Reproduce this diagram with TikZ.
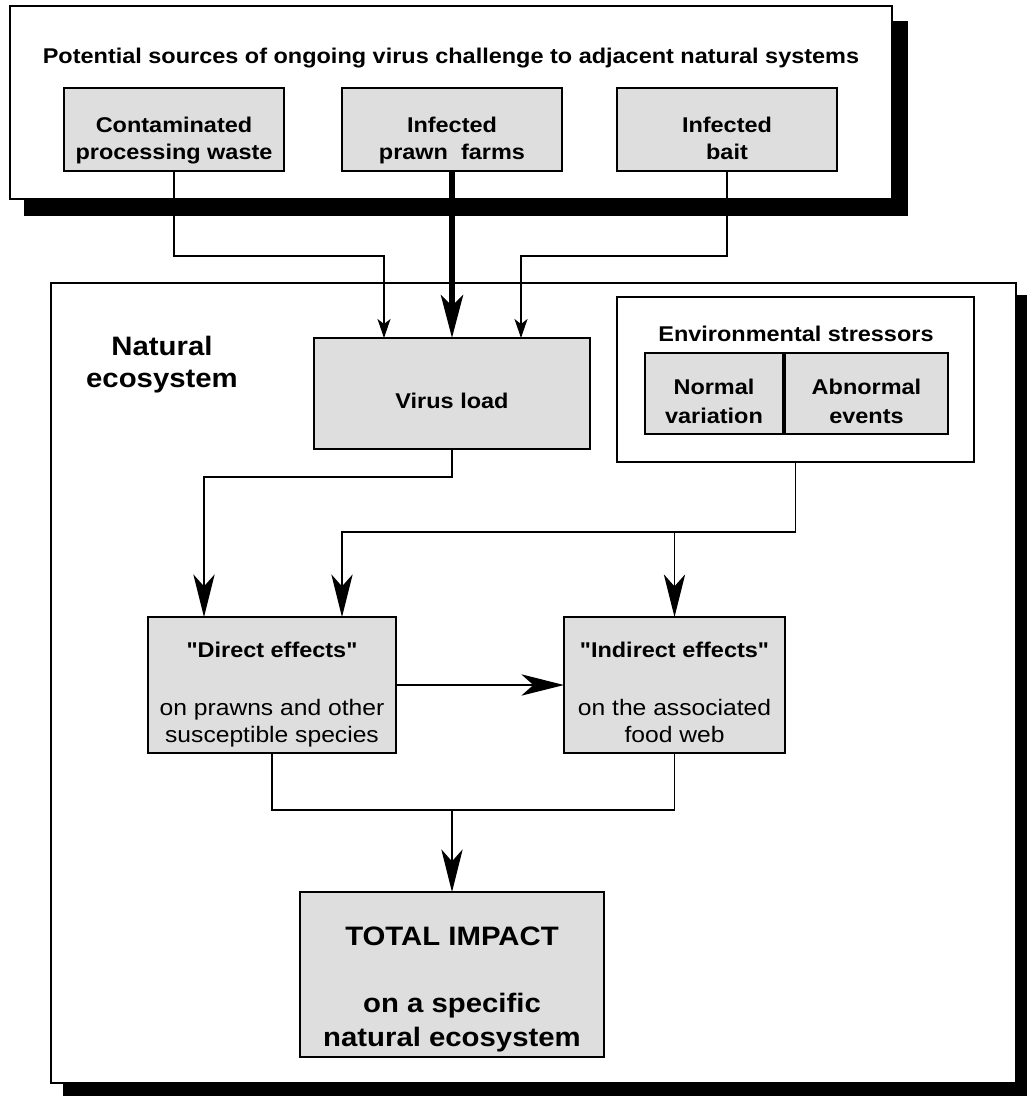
\documentclass[tikz,border=0pt]{standalone}
\usepackage{fontspec}
\setmainfont{Liberation Sans}[FakeStretch=1.1, Ligatures=TeXOff]
\usetikzlibrary{arrows.meta,backgrounds}
\definecolor{boxgray}{HTML}{DEDEDE}
\tikzset{
  panel/.style n args={2}{draw, line width=1.1pt, fill=white, inner sep=0pt, outer sep=0pt,
    minimum width=#1*0.75pt, minimum height=#2*0.75pt},
  graybox/.style n args={2}{panel={#1}{#2}, fill=boxgray},
  shadow/.style={fill=black},
  txt/.style={anchor=base, inner sep=0pt, font=\fontsize{16}{19}\selectfont\bfseries},
  bigtxt/.style={anchor=base, inner sep=0pt, font=\fontsize{20}{24}\selectfont\bfseries},
  plaintxt/.style={anchor=base, inner sep=0pt, font=\fontsize{16.8}{20}\selectfont},
  link/.style={line width=1pt},
  smallarrow/.style={link, -{Stealth[length=14.25pt, width=9.75pt, inset=3.75pt]}},
  bigarrow/.style={link, -{Stealth[length=32pt, width=16pt, inset=9pt]}},
  heavyarrow/.style={line width=4.5pt, -{Stealth[length=32pt, width=16.5pt, inset=8pt]}},
}
\begin{document}
\begin{tikzpicture}[x=0.75pt, y=-0.75pt]
\useasboundingbox (0,0) rectangle (1026,1097);

% outer frames
\node[panel={882}{193}] (top) at (451,102.5) {};
\node[panel={965}{800}] (eco) at (533.5,683) {};

% drop shadows behind the two frames
\begin{scope}[on background layer]
  \fill[shadow] ([shift={(14,15)}]top.north west) rectangle ([shift={(16,17)}]top.south east);
  \fill[shadow] ([shift={(12,12)}]eco.north west) rectangle ([shift={(12,13)}]eco.south east);
\end{scope}

% sources of virus challenge
\node[txt] (title) at (451,63) {Potential sources of ongoing virus challenge to adjacent natural systems};
\node[graybox={220}{83}] (waste) at (174,129.5) {};
\node[graybox={220}{83}] (farms) at (452,129.5) {};
\node[graybox={220}{83}] (bait) at (727,129.5) {};
\node[txt] (waste1) at (174,132) {Contaminated};
\node[txt] (waste2) at (174,159) {processing waste};
\node[txt] (farms1) at (452,132) {Infected};
\node[txt] (farms2) at (452,159) {prawn~~farms};
\node[txt] (bait1) at (727,132) {Infected};
\node[txt] (bait2) at (727,159) {bait};

% natural ecosystem
\node[bigtxt] (eco1) at (162,355) {Natural};
\node[bigtxt] (eco2) at (162,387) {ecosystem};

\node[graybox={276}{111}] (virus) at (452,393.5) {};
\node[txt] (virus1) at (452,408) {Virus load};

\node[panel={357}{165}] (env) at (795.5,379.5) {};
\node[txt] (env1) at (796,341) {Environmental stressors};
\node[graybox={138}{81}] (normal) at (714,393.5) {};
\node[graybox={163}{81}] (abnormal) at (866.5,393.5) {};
\node[txt] (normal1) at (714,394) {Normal};
\node[txt] (normal2) at (714,423) {variation};
\node[txt] (abnormal1) at (866.5,394) {Abnormal};
\node[txt] (abnormal2) at (866.5,423) {events};

\node[graybox={248}{136}] (direct) at (272,685) {};
\node[txt] (direct1) at (272,657) {"Direct effects"};
\node[plaintxt] (direct2) at (272,715) {on prawns and other};
\node[plaintxt] (direct3) at (272,742) {susceptible species};

\node[graybox={221}{136}] (indirect) at (674.5,685) {};
\node[txt] (indirect1) at (674.5,657) {"Indirect effects"};
\node[plaintxt] (indirect2) at (674.5,715) {on the associated};
\node[plaintxt] (indirect3) at (674.5,742) {food web};

\node[graybox={304}{165}] (total) at (452,974.5) {};
\node[bigtxt] (total1) at (452,945) {TOTAL IMPACT};
\node[bigtxt] (total2) at (452,1012) {on a specific};
\node[bigtxt] (total3) at (452,1046) {natural ecosystem};

% routing points
\coordinate (wbend) at (384,256);
\coordinate (bbend) at (521,256);
\coordinate (vbend) at (204,477);
\coordinate (ebend) at (342,532);
\coordinate (merge) at (452,810);

% connectors
\draw[smallarrow] (waste.south) |- (wbend) -- (wbend |- virus.north);
\draw[smallarrow] (bait.south) |- (bbend) -- (bbend |- virus.north);
\draw[heavyarrow] (farms.south) -- (virus.north);
\draw[bigarrow] (virus.south) |- (vbend) -- (vbend |- direct.north);
\draw[bigarrow] (env.south) |- (ebend) -- (ebend |- direct.north);
\draw[bigarrow] (indirect.north |- ebend) -- (indirect.north);
\draw[bigarrow] (direct.east) -- (indirect.west);
\draw[link] (direct.south) |- (merge) -| (indirect.south);
\draw[bigarrow] (merge) -- (total.north);
\end{tikzpicture}
\end{document}
